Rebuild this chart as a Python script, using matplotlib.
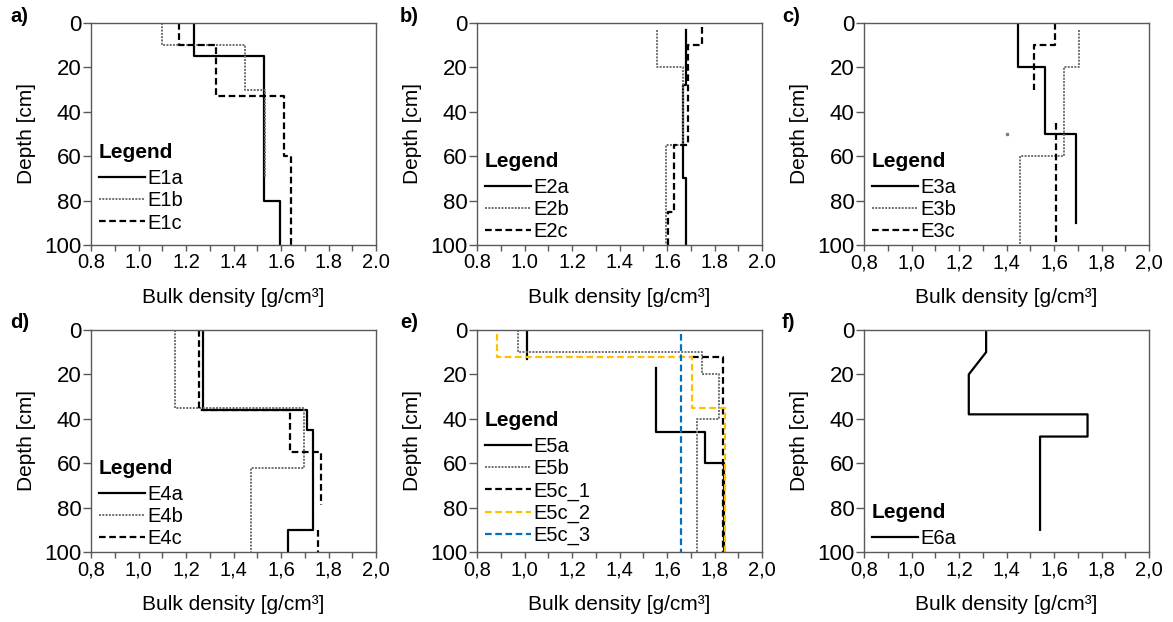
#Bulk density profiles program

import matplotlib
matplotlib.use('Agg')
import matplotlib.pyplot as plt
from matplotlib.ticker import MultipleLocator, FuncFormatter
import numpy as np

plt.rcParams['font.family'] = ['Liberation Sans', 'DejaVu Sans']

# layer boundaries [cm] and bulk density of each layer [g/cm3]
# (nan = no data for that layer)
e1a_depth = [0, 15, 80, 100]
e1a_bd = [1.232, 1.527, 1.594]
e1b_depth = [0, 10, 30, 70]
e1b_bd = [1.10, 1.45, 1.534]
e1c_depth = [0, 10, 33, 60, 100]
e1c_bd = [1.169, 1.328, 1.613, 1.643]

e2a_depth = [3, 28, 70, 100]
e2a_bd = [1.681, 1.665, 1.681]
e2b_depth = [3, 20, 55, 100]
e2b_bd = [1.558, 1.667, 1.597]
e2c_depth = [2, 10, 55, 85, 100]
e2c_bd = [1.747, 1.690, 1.628, 1.604]

e3a_depth = [0, 20, 50, 90]
e3a_bd = [1.447, 1.562, 1.692]
e3b_depth = [3, 20, 60, 100]
e3b_bd = [1.703, 1.643, 1.457]
e3c_depth = [0, 10, 30, 45, 100]
e3c_bd = [1.605, 1.517, np.nan, 1.608]
e3_stray_bd = [1.40]
e3_stray_depth = [50]

e4a_depth = [0, 36, 45, 90, 100]
e4a_bd = [1.270, 1.709, 1.735, 1.629]
e4b_depth = [0, 35, 62, 100]
e4b_bd = [1.155, 1.695, 1.474]
e4c_depth = [0, 36, 55, 79, 90, 100]
e4c_bd = [1.256, 1.637, 1.768, np.nan, 1.754]

e5a_depth = [0, 13, 17, 46, 60, 100]
e5a_bd = [1.010, np.nan, 1.554, 1.759, 1.839]
e5b_depth = [0, 10, 20, 40, 100]
e5b_bd = [0.973, 1.747, 1.820, 1.726]
# E5c_1 is mostly hidden, only its lower part is visible
e5c1_x = [1.705, 1.836, 1.836]
e5c1_y = [12, 12, 100]
e5c2_depth = [2, 12, 35, 100]
e5c2_bd = [0.885, 1.705, 1.843]
e5c3_depth = [2, 100]
e5c3_bd = [1.660]

# E6a is measured as points, not layers
e6a_x = [1.314, 1.314, 1.241, 1.241, 1.741, 1.741, 1.541, 1.541]
e6a_y = [0, 10, 20, 38, 38, 48, 48, 90]

xticks = [0.8, 1.0, 1.2, 1.4, 1.6, 1.8, 2.0]
yticks = [0, 20, 40, 60, 80, 100]

SOLID = dict(color='black', lw=1.6, ls='-')
DOT = dict(color='#6f6f6f', lw=1.4, ls=(0, (1, 0.7)))
DASH = dict(color='black', lw=1.6, ls=(0, (3, 1.6)))


# turn layers into a step profile
def Steps(depth, bd):
    x = []
    y = []
    for i in range(len(bd)):
        x += [bd[i], bd[i]]
        y += [depth[i], depth[i + 1]]
    return x, y


def SetupAxes(ax, comma):
    ax.set_xlim(0.8, 2.0)
    ax.set_ylim(100, 0)
    ax.set_xticks(xticks)
    ax.set_yticks(yticks)
    ax.xaxis.set_minor_locator(MultipleLocator(0.1))
    if comma:
        ax.xaxis.set_major_formatter(FuncFormatter(lambda v, p: ('%.1f' % v).replace('.', ',')))
    else:
        ax.xaxis.set_major_formatter(FuncFormatter(lambda v, p: '%.1f' % v))
    ax.tick_params(axis='x', which='both', direction='out', length=4, width=1,
                   color='#595959', labelsize=14.5, pad=2)
    ax.tick_params(axis='y', which='major', direction='out', length=6, width=1,
                   color='#595959', labelsize=16, pad=1)
    for s in ax.spines.values():
        s.set_color('#595959')
        s.set_linewidth(1)
    ax.set_xlabel('Bulk density [g/cm³]', fontsize=15, labelpad=11)
    ax.set_ylabel('Depth [cm]', fontsize=15, labelpad=6)


def Legend(ax, dy=0.0):
    leg = ax.legend(loc='lower left', bbox_to_anchor=(0.0, -0.02 + dy), frameon=False,
                    title='Legend', title_fontproperties={'weight': 'bold', 'size': 15},
                    alignment='left', fontsize=14.5, handlelength=2.3, handletextpad=0.1,
                    labelspacing=0.15, borderaxespad=0.2, borderpad=0.2)
    # a bit more room under the title
    leg._legend_box.sep = 5.5


fig = plt.figure(figsize=(11.73, 6.22), dpi=100)

lefts = [0.0776, 0.4067, 0.7366]
bottoms = [0.6061, 0.1125]
w = 0.243
h = 0.357
axs = []
for b in bottoms:
    for l in lefts:
        axs.append(fig.add_axes([l, b, w, h]))

# a)
ax = axs[0]
x, y = Steps(e1a_depth, e1a_bd)
ax.plot(x, y, label='E1a', **SOLID)
x, y = Steps(e1b_depth, e1b_bd)
ax.plot(x, y, label='E1b', **DOT)
x, y = Steps(e1c_depth, e1c_bd)
ax.plot(x, y, label='E1c', **DASH)
SetupAxes(ax, False)
Legend(ax, 0.04)

# b)
ax = axs[1]
x, y = Steps(e2a_depth, e2a_bd)
ax.plot(x, y, label='E2a', **SOLID)
x, y = Steps(e2b_depth, e2b_bd)
ax.plot(x, y, label='E2b', **DOT)
x, y = Steps(e2c_depth, e2c_bd)
ax.plot(x, y, label='E2c', **DASH)
SetupAxes(ax, False)
Legend(ax)

# c)
ax = axs[2]
x, y = Steps(e3a_depth, e3a_bd)
ax.plot(x, y, label='E3a', **SOLID)
x, y = Steps(e3b_depth, e3b_bd)
ax.plot(x, y, label='E3b', **DOT)
x, y = Steps(e3c_depth, e3c_bd)
ax.plot(x, y, label='E3c', **DASH)
ax.plot(e3_stray_bd, e3_stray_depth, ls='none', marker='s', ms=1.5, color='#7f7f7f')
SetupAxes(ax, True)
Legend(ax)

# d)
ax = axs[3]
x, y = Steps(e4a_depth, e4a_bd)
ax.plot(x, y, label='E4a', **SOLID)
x, y = Steps(e4b_depth, e4b_bd)
ax.plot(x, y, label='E4b', **DOT)
x, y = Steps(e4c_depth, e4c_bd)
ax.plot(x, y, label='E4c', **DASH)
SetupAxes(ax, True)
Legend(ax)

# e)
ax = axs[4]
x, y = Steps(e5a_depth, e5a_bd)
ax.plot(x, y, label='E5a', **SOLID)
x, y = Steps(e5b_depth, e5b_bd)
ax.plot(x, y, label='E5b', **DOT)
ax.plot(e5c1_x, e5c1_y, label='E5c_1', **DASH)
x, y = Steps(e5c2_depth, e5c2_bd)
ax.plot(x, y, label='E5c_2', color='#FFC000', lw=1.6, ls=(0, (3, 1.6)))
x, y = Steps(e5c3_depth, e5c3_bd)
ax.plot(x, y, label='E5c_3', color='#0070C0', lw=1.6, ls=(0, (3, 1.6)))
SetupAxes(ax, True)
Legend(ax, 0.015)

# f)
ax = axs[5]
ax.plot(e6a_x, e6a_y, label='E6a', **SOLID)
SetupAxes(ax, True)
Legend(ax)

# panel letters
letters = ['a)', 'b)', 'c)', 'd)', 'e)', 'f)']
lx = [10, 400, 782]
ly = [17, 323]
k = 0
for yy in ly:
    for xx in lx:
        fig.text(xx / 1173, 1 - yy / 622, letters[k], fontsize=14.5, fontweight='bold',
                 ha='left', va='center')
        k += 1

fig.savefig('out.png', dpi=100)
